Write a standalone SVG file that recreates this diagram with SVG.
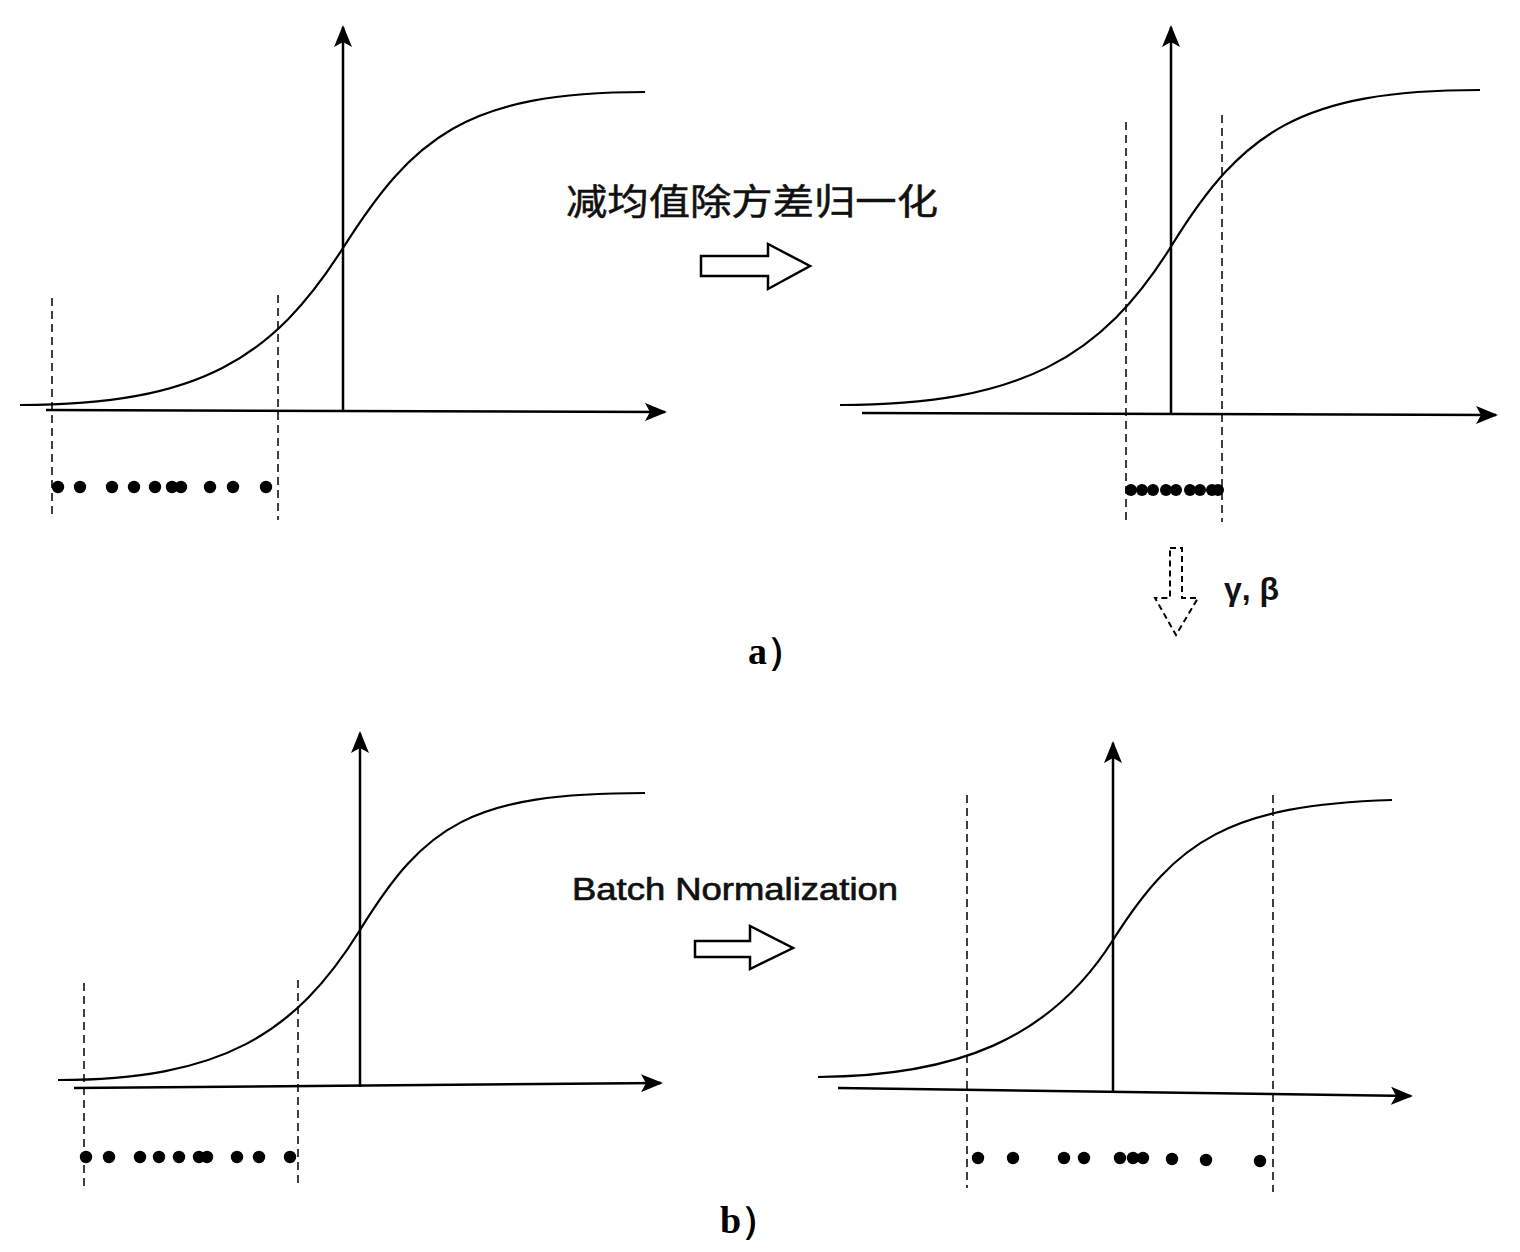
<svg xmlns="http://www.w3.org/2000/svg" width="1520" height="1252" viewBox="0 0 1520 1252">
<style>
.axis{stroke:#000;stroke-width:2.5;fill:none}
.curve{stroke:#000;stroke-width:2.2;fill:none}
.dash{stroke:#000;stroke-width:1.5;stroke-dasharray:8,5;fill:none}
.hollow{stroke:#000;stroke-width:2.5;fill:#fff;stroke-linejoin:miter}
.dot{fill:#000}
.cn{font-family:"Noto Sans CJK SC","Noto Sans",sans-serif;font-size:36px;fill:#111;stroke:#111;stroke-width:0.5}
.lbl{font-family:"Liberation Serif",serif;font-weight:bold;font-size:38px;fill:#000}
.en{font-family:"Liberation Sans",Arial,sans-serif;font-size:32px;fill:#111;stroke:#111;stroke-width:0.7}
</style>
<defs>
<marker id="ah" viewBox="0 0 22 18" refX="20" refY="9" markerWidth="22" markerHeight="18" markerUnits="userSpaceOnUse" orient="auto">
<path d="M0,0 L22,9 L0,18 L5,9 Z" fill="#000"/>
</marker>
</defs>
<rect width="1520" height="1252" fill="#fff"/>

<g id="panel-a-left">
<path class="curve" d="M20,405 C200,405 273,358 343,248 S465,92 645,92"/>
<line class="dash" x1="52" y1="298" x2="52" y2="518"/>
<line class="dash" x1="278" y1="295" x2="278" y2="520"/>
<g class="dot">
<circle cx="58" cy="487" r="6.2"/><circle cx="80" cy="487" r="6.2"/><circle cx="112" cy="487" r="6.2"/><circle cx="134" cy="487" r="6.2"/><circle cx="155" cy="487" r="6.2"/><circle cx="172" cy="487" r="6.2"/><circle cx="181" cy="487" r="6.2"/><circle cx="210" cy="487" r="6.2"/><circle cx="233" cy="487" r="6.2"/><circle cx="266" cy="487" r="6.2"/>
</g>
</g>

<g id="panel-a-right">
<path class="curve" d="M840,405 C1020,405 1102,358 1172,245 S1300,90 1480,90"/>
<line class="dash" x1="1126" y1="122" x2="1126" y2="520"/>
<line class="dash" x1="1222" y1="115" x2="1222" y2="522"/>
<g class="dot">
<circle cx="1131" cy="490" r="6"/><circle cx="1142" cy="490" r="6"/><circle cx="1153" cy="490" r="6"/><circle cx="1166" cy="490" r="6"/><circle cx="1176" cy="490" r="6"/><circle cx="1190" cy="490" r="6"/><circle cx="1200" cy="490" r="6"/><circle cx="1212" cy="490" r="6"/><circle cx="1218" cy="490" r="6"/>
</g>
</g>

<g id="label-a-process">
<text class="cn" x="566" y="215" textLength="372" lengthAdjust="spacingAndGlyphs">减均值除方差归一化</text>
<path class="hollow" d="M701,256 L768,256 L768,244 L810,266 L768,289 L768,276 L701,276 Z"/>
</g>

<g id="label-gamma-beta">
<path class="hollow" style="stroke-dasharray:6,4;stroke-width:2" d="M1170,548 L1182,548 L1182,598 L1198,598 L1176,635 L1155,598 L1170,598 Z"/>
<text x="1224" y="600" font-family="Liberation Sans,Arial,sans-serif" font-weight="bold" font-size="32" fill="#111">γ, β</text>
</g>

<g id="caption-a"><text class="lbl" x="748" y="664">a）</text></g>

<g id="panel-b-left">
<path class="curve" d="M58,1080 C220,1080 295,1035 360,930 S470,793 645,793"/>
<line class="dash" x1="84" y1="983" x2="84" y2="1188"/>
<line class="dash" x1="298" y1="980" x2="298" y2="1188"/>
<g class="dot">
<circle cx="86" cy="1157" r="6.2"/><circle cx="109" cy="1157" r="6.2"/><circle cx="140" cy="1157" r="6.2"/><circle cx="159" cy="1157" r="6.2"/><circle cx="179" cy="1157" r="6.2"/><circle cx="199" cy="1157" r="6.2"/><circle cx="207" cy="1157" r="6.2"/><circle cx="237" cy="1157" r="6.2"/><circle cx="259" cy="1157" r="6.2"/><circle cx="290" cy="1157" r="6.2"/>
</g>
</g>

<g id="label-b-process">
<text class="en" x="572" y="900" textLength="326" lengthAdjust="spacingAndGlyphs">Batch Normalization</text>
<path class="hollow" d="M695,941 L750,941 L750,926 L793,948 L750,969 L750,957 L695,957 Z"/>
</g>

<g id="panel-b-right">
<path class="curve" d="M818,1077 C955,1076 1050,1040 1113,940 S1230,805 1392,800"/>
<line class="dash" x1="967" y1="795" x2="967" y2="1188"/>
<line class="dash" x1="1273" y1="795" x2="1273" y2="1192"/>
<g class="dot">
<circle cx="978" cy="1158" r="6.2"/><circle cx="1013" cy="1158" r="6.2"/><circle cx="1064" cy="1158" r="6.2"/><circle cx="1084" cy="1158" r="6.2"/><circle cx="1120" cy="1158" r="6.2"/><circle cx="1133" cy="1158" r="6.2"/><circle cx="1143" cy="1158" r="6.2"/><circle cx="1172" cy="1159" r="6.2"/><circle cx="1206" cy="1160" r="6.2"/><circle cx="1260" cy="1161" r="6.2"/>
</g>
</g>

<g id="caption-b"><text class="lbl" x="720" y="1233">b）</text></g>

<g id="connectors">
<line class="axis" x1="46" y1="410" x2="665" y2="412" marker-end="url(#ah)"/>
<line class="axis" x1="343" y1="412" x2="343" y2="27" marker-end="url(#ah)"/>
<line class="axis" x1="862" y1="413" x2="1496" y2="415" marker-end="url(#ah)"/>
<line class="axis" x1="1171" y1="414" x2="1171" y2="27" marker-end="url(#ah)"/>
<line class="axis" x1="74" y1="1088" x2="661" y2="1083" marker-end="url(#ah)"/>
<line class="axis" x1="360" y1="1087" x2="360" y2="733" marker-end="url(#ah)"/>
<line class="axis" x1="838" y1="1088" x2="1411" y2="1096" marker-end="url(#ah)"/>
<line class="axis" x1="1113" y1="1091" x2="1113" y2="743" marker-end="url(#ah)"/>
</g>
</svg>
